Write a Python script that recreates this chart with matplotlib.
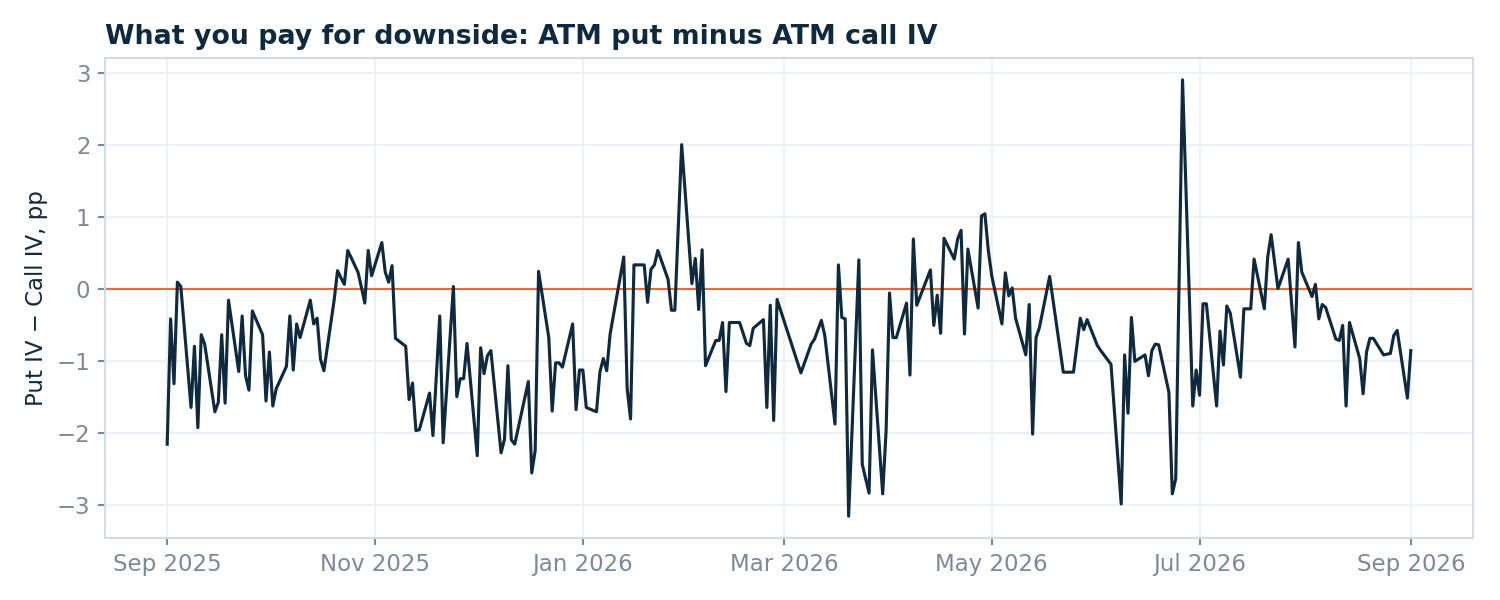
import matplotlib
matplotlib.use("Agg")
import matplotlib.pyplot as plt
import matplotlib.dates as mdates
import pandas as pd

dates = [
    "2025-09-01", "2025-09-02", "2025-09-03", "2025-09-04", "2025-09-05",
    "2025-09-08", "2025-09-09", "2025-09-10", "2025-09-11", "2025-09-12",
    "2025-09-15", "2025-09-16", "2025-09-17", "2025-09-18", "2025-09-19",
    "2025-09-22", "2025-09-23", "2025-09-24", "2025-09-25", "2025-09-26",
    "2025-09-29", "2025-09-30", "2025-10-01", "2025-10-02", "2025-10-03",
    "2025-10-06", "2025-10-07", "2025-10-08", "2025-10-09", "2025-10-10",
    "2025-10-13", "2025-10-14", "2025-10-15", "2025-10-16", "2025-10-17",
    "2025-10-20", "2025-10-21", "2025-10-22", "2025-10-23", "2025-10-24",
    "2025-10-27", "2025-10-28", "2025-10-29", "2025-10-30", "2025-10-31",
    "2025-11-03", "2025-11-04", "2025-11-05", "2025-11-06", "2025-11-07",
    "2025-11-10", "2025-11-11", "2025-11-12", "2025-11-13", "2025-11-14",
    "2025-11-17", "2025-11-18", "2025-11-20", "2025-11-21",
    "2025-11-24", "2025-11-25", "2025-11-26", "2025-11-27", "2025-11-28",
    "2025-12-01", "2025-12-02", "2025-12-03", "2025-12-04", "2025-12-05",
    "2025-12-08", "2025-12-09", "2025-12-10", "2025-12-11", "2025-12-12",
    "2025-12-16", "2025-12-17", "2025-12-18", "2025-12-19",
    "2025-12-22", "2025-12-23", "2025-12-24", "2025-12-25", "2025-12-26",
    "2025-12-29", "2025-12-30", "2025-12-31", "2026-01-01", "2026-01-02",
    "2026-01-05", "2026-01-06", "2026-01-07", "2026-01-08", "2026-01-09",
    "2026-01-13", "2026-01-14", "2026-01-15", "2026-01-16",
    "2026-01-19", "2026-01-20", "2026-01-21", "2026-01-22", "2026-01-23",
    "2026-01-26", "2026-01-27", "2026-01-28", "2026-01-30",
    "2026-02-02", "2026-02-03", "2026-02-04", "2026-02-05", "2026-02-06",
    "2026-02-09", "2026-02-10", "2026-02-11", "2026-02-12", "2026-02-13",
    "2026-02-16", "2026-02-18", "2026-02-19", "2026-02-20",
    "2026-02-23", "2026-02-24", "2026-02-25", "2026-02-26", "2026-02-27",
    "2026-03-06",
    "2026-03-09", "2026-03-10", "2026-03-12", "2026-03-13",
    "2026-03-16", "2026-03-17", "2026-03-18", "2026-03-19", "2026-03-20",
    "2026-03-23", "2026-03-24", "2026-03-26", "2026-03-27",
    "2026-03-30", "2026-03-31", "2026-04-01", "2026-04-02", "2026-04-03",
    "2026-04-06", "2026-04-07", "2026-04-08", "2026-04-09",
    "2026-04-13", "2026-04-14", "2026-04-15", "2026-04-16", "2026-04-17",
    "2026-04-20", "2026-04-21", "2026-04-22", "2026-04-23", "2026-04-24",
    "2026-04-27", "2026-04-28", "2026-04-29", "2026-04-30", "2026-05-01",
    "2026-05-04", "2026-05-05", "2026-05-06", "2026-05-07", "2026-05-08",
    "2026-05-11", "2026-05-12", "2026-05-13", "2026-05-14", "2026-05-15",
    "2026-05-18", "2026-05-22",
    "2026-05-25", "2026-05-27", "2026-05-28", "2026-05-29",
    "2026-06-01", "2026-06-02", "2026-06-05",
    "2026-06-08", "2026-06-09", "2026-06-10", "2026-06-11", "2026-06-12",
    "2026-06-15", "2026-06-16", "2026-06-17", "2026-06-18", "2026-06-19",
    "2026-06-22", "2026-06-23", "2026-06-24", "2026-06-26",
    "2026-06-29", "2026-06-30", "2026-07-01", "2026-07-02", "2026-07-03",
    "2026-07-06", "2026-07-07", "2026-07-08", "2026-07-09", "2026-07-10",
    "2026-07-13", "2026-07-14", "2026-07-16", "2026-07-17",
    "2026-07-20", "2026-07-21", "2026-07-22", "2026-07-24",
    "2026-07-27", "2026-07-29", "2026-07-30", "2026-07-31",
    "2026-08-03", "2026-08-04", "2026-08-05", "2026-08-06", "2026-08-07",
    "2026-08-10", "2026-08-11", "2026-08-12", "2026-08-13", "2026-08-14",
    "2026-08-17", "2026-08-18", "2026-08-19", "2026-08-20", "2026-08-21",
    "2026-08-24", "2026-08-26", "2026-08-27", "2026-08-28",
    "2026-08-31", "2026-09-01",
]

put_minus_call_iv = [
    -2.16, -0.42, -1.32, 0.09, 0.03,
    -1.65, -0.80, -1.93, -0.64, -0.77,
    -1.71, -1.58, -0.64, -1.59, -0.16,
    -1.15, -0.38, -1.21, -1.41, -0.31,
    -0.64, -1.56, -0.88, -1.63, -1.39,
    -1.08, -0.38, -1.13, -0.49, -0.68,
    -0.16, -0.49, -0.41, -0.98, -1.14,
    -0.16, 0.25, 0.15, 0.06, 0.53,
    0.23, 0.02, -0.20, 0.53, 0.18,
    0.64, 0.23, 0.09, 0.32, -0.69,
    -0.80, -1.54, -1.31, -1.97, -1.96,
    -1.45, -2.04, -0.38, -2.14,
    0.03, -1.50, -1.25, -1.25, -0.76,
    -2.32, -0.82, -1.18, -0.93, -0.86,
    -2.28, -2.09, -1.07, -2.10, -2.16,
    -1.29, -2.56, -2.25, 0.24,
    -0.68, -1.70, -1.03, -1.03, -1.09,
    -0.49, -1.68, -1.13, -1.13, -1.65,
    -1.71, -1.16, -0.97, -1.14, -0.63,
    0.44, -1.39, -1.81, 0.33,
    0.33, -0.19, 0.27, 0.33, 0.53,
    0.13, -0.30, -0.30, 2.00,
    0.07, 0.42, -0.29, 0.54, -1.07,
    -0.72, -0.72, -0.47, -1.43, -0.47,
    -0.47, -0.76, -0.79, -0.55,
    -0.43, -1.65, -0.23, -1.83, -0.15,
    -1.17,
    -0.77, -0.70, -0.44, -0.65,
    -1.88, 0.33, -0.40, -0.42, -3.16,
    0.40, -2.44, -2.84, -0.85,
    -2.85, -1.97, -0.06, -0.68, -0.68,
    -0.20, -1.20, 0.69, -0.23,
    0.26, -0.51, -0.09, -0.62, 0.70,
    0.41, 0.69, 0.81, -0.63, 0.55,
    -0.27, 1.01, 1.04, 0.53, 0.18,
    -0.49, 0.22, -0.10, 0.01, -0.41,
    -0.92, -0.22, -2.02, -0.68, -0.54,
    0.17, -1.16,
    -1.16, -0.41, -0.57, -0.43,
    -0.79, -0.86, -1.05,
    -2.99, -0.92, -1.73, -0.40, -1.01,
    -0.92, -1.21, -0.86, -0.77, -0.78,
    -1.44, -2.85, -2.64, 2.90,
    -1.63, -1.13, -1.48, -0.21, -0.21,
    -1.63, -0.59, -1.06, -0.24, -0.34,
    -1.23, -0.28, -0.28, 0.41,
    -0.28, 0.44, 0.75, 0.00,
    0.41, -0.81, 0.64, 0.23,
    -0.11, 0.06, -0.42, -0.22, -0.26,
    -0.70, -0.72, -0.51, -1.63, -0.47,
    -0.97, -1.46, -0.88, -0.69, -0.69,
    -0.92, -0.90, -0.65, -0.58,
    -1.52, -0.86,
]

title = "What you pay for downside: ATM put minus ATM call IV"
ylabel = "Put IV \u2212 Call IV, pp"
yticks = [-3, -2, -1, 0, 1, 2, 3]

NAVY = "#0f2a3e"
ORANGE = "#f2643a"
TICK_GRAY = "#7d8898"
SPINE = "#d5dbe6"
GRID = "#eef1f6"

plt.rcParams["font.family"] = ["DejaVu Sans"]

x = pd.to_datetime(dates)

fig = plt.figure(figsize=(10, 4), dpi=150)
ax = fig.add_axes([0.07, 0.1033, 0.912, 0.80])

ax.grid(True, color=GRID, linewidth=1.0)
ax.set_axisbelow(True)
ax.axhline(0, color=ORANGE, linewidth=1.0, zorder=2)
ax.plot(x, put_minus_call_iv, color=NAVY, linewidth=1.5, zorder=3)

ax.set_yticks(yticks)
ax.xaxis.set_major_locator(mdates.MonthLocator(bymonth=[1, 3, 5, 7, 9, 11]))
ax.xaxis.set_major_formatter(mdates.DateFormatter("%b %Y"))
ax.yaxis.set_major_formatter(matplotlib.ticker.FuncFormatter(
    lambda v, p: ("\u2212%d" % abs(v)) if v < 0 else "%d" % v))

for s in ax.spines.values():
    s.set_color(SPINE)
    s.set_linewidth(1.0)

ax.tick_params(axis="both", colors=TICK_GRAY, labelsize=11, length=3.5, width=1.0)
ax.set_ylabel(ylabel, fontsize=11, color=NAVY)
ax.set_title(title, loc="left", fontsize=12.85, fontweight="bold", color=NAVY, pad=6.5)

fig.savefig("out.png", dpi=150, facecolor="white")
